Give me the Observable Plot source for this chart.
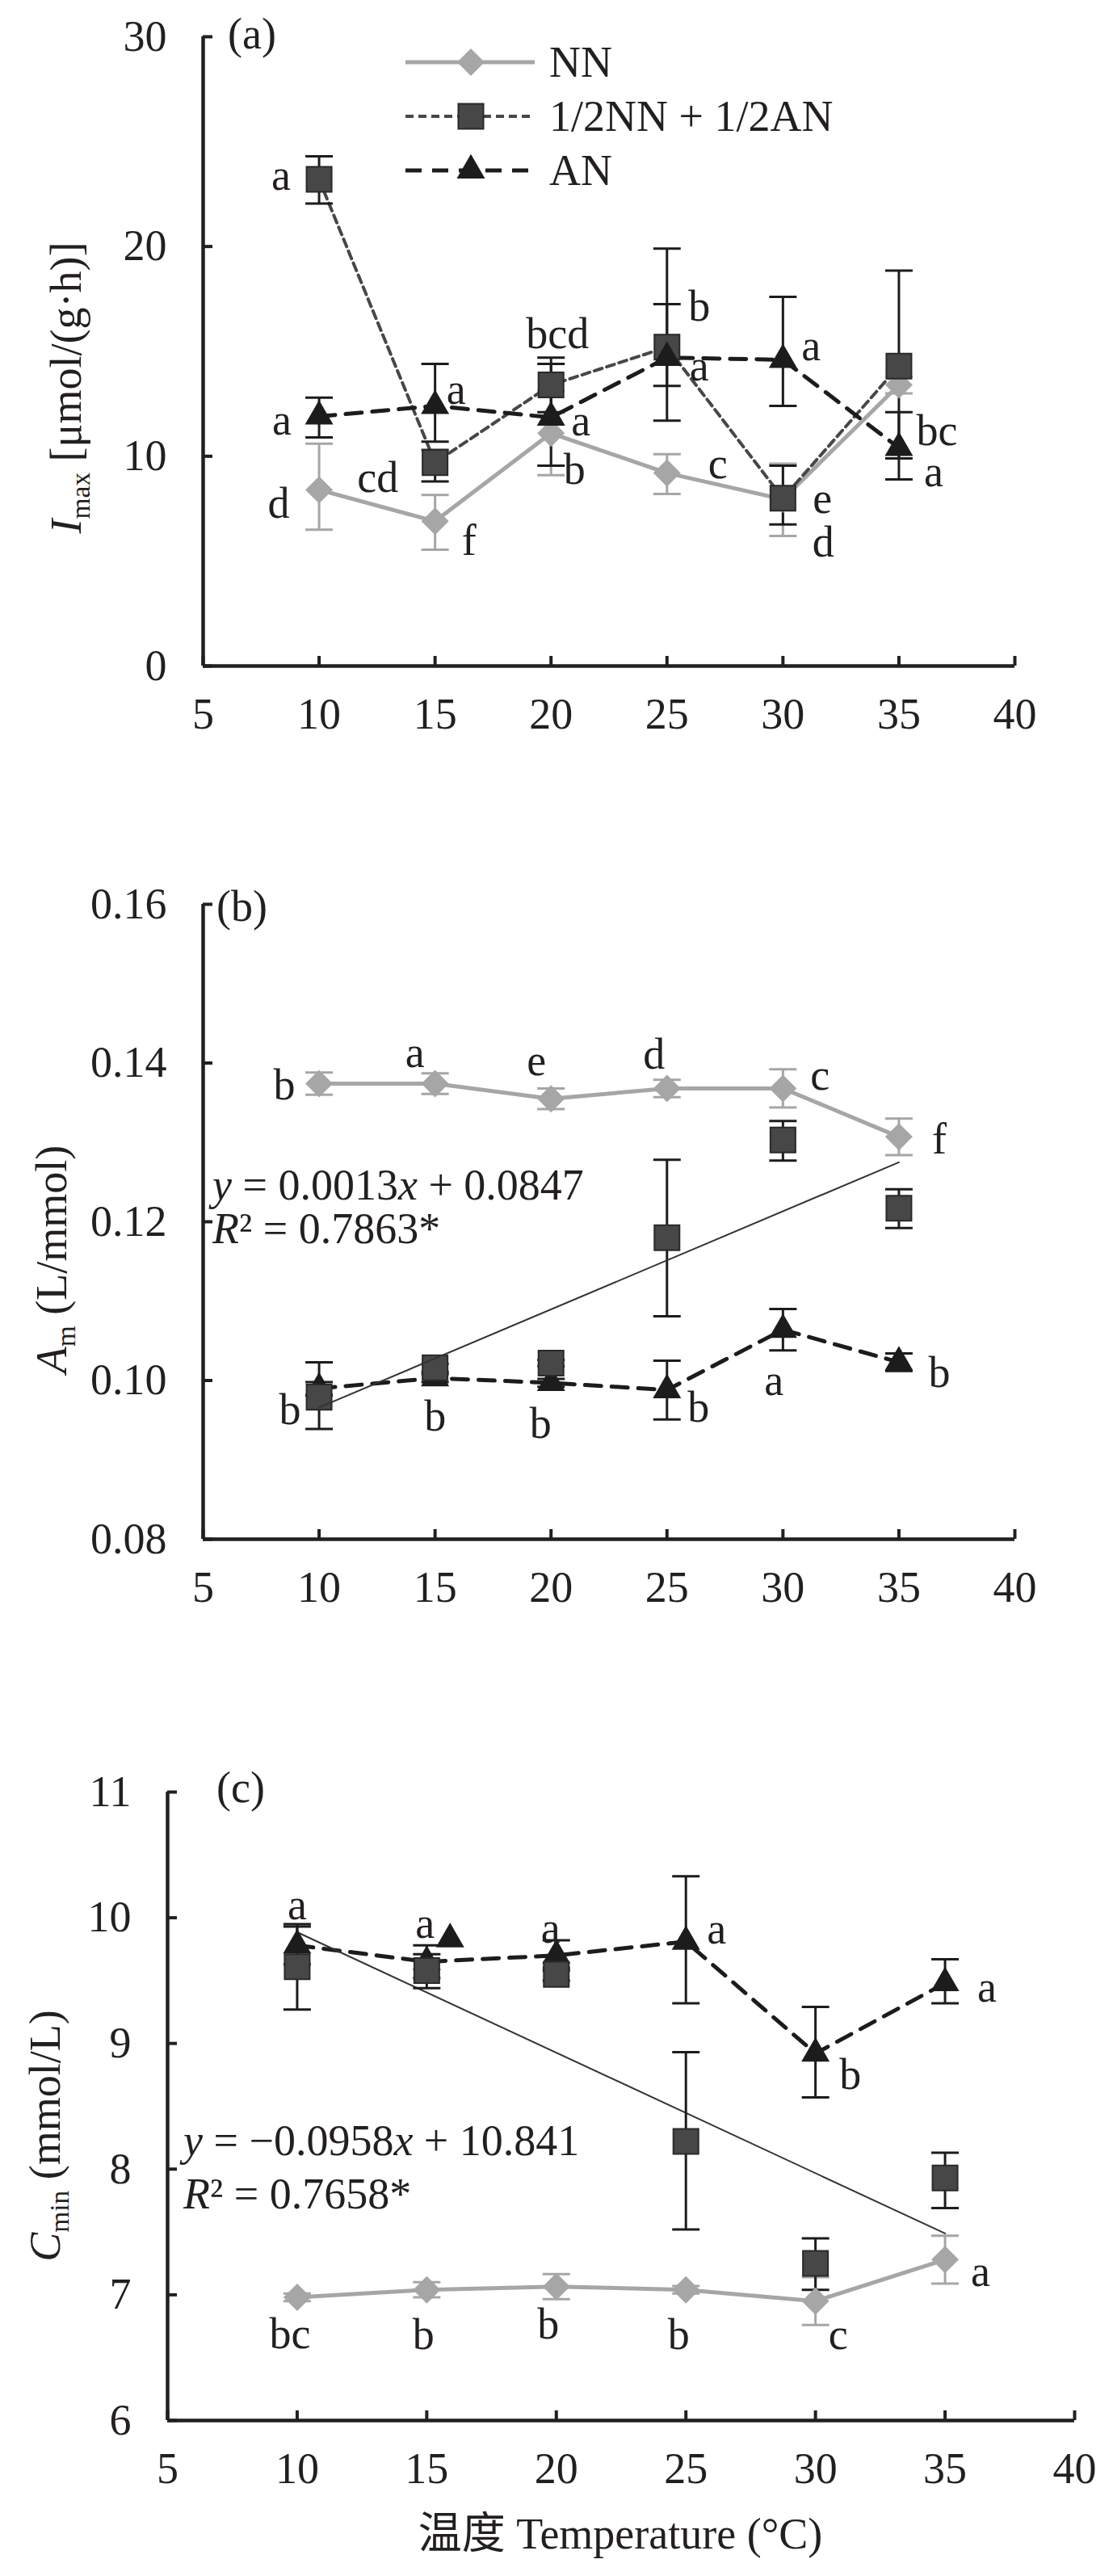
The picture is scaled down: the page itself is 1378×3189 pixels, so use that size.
<!DOCTYPE html>
<html><head><meta charset="utf-8">
<script src="https://cdn.jsdelivr.net/npm/d3@7"></script>
<script src="https://cdn.jsdelivr.net/npm/@observablehq/plot@0.6"></script>
<style>
body{margin:0;background:#fff;}
#wrap{width:1378px;}
svg{display:block;}
</style></head><body><div id="wrap"></div>
<script>
// ---------- data ----------
const temps = [10, 15, 20, 25, 30, 35];
const xTicks = [5, 10, 15, 20, 25, 30, 35, 40];
const seriesNames = ["NN", "1/2NN + 1/2AN", "AN"];

// (a) Imax
const aTicks = [0, 10, 20, 30];
const aNN = [8.4, 6.9, 11.1, 9.2, 7.95, 13.4];
const aNNup = [2.2, 1.25, 2.0, 0.9, 1.7, 0.4];
const aNNdn = [1.9, 1.35, 2.0, 1.0, 1.75, 0.4];
const aNNlet = ["d", "f", "b", "c", "d", "bc"];
const aMix = [23.2, 9.7, 13.4, 15.2, 8.0, 14.3];
const aMixUp = [1.1, 0.6, 1.3, 4.7, 1.55, 4.55];
const aMixDn = [1.15, 0.9, 1.3, 3.5, 1.25, 4.4];
const aMixLet = ["a", "cd", "bcd", "b", "e", null];
const aAN = [11.9, 12.4, 11.85, 14.7, 14.6, 10.4];
const aANup = [0.9, 2.0, 2.55, 2.55, 3.0, 1.7];
const aANdn = [1.0, 1.7, 2.3, 1.35, 2.2, 1.5];
const aANlet = ["a", "a", "a", "a", "a", "a"];

// (b) Am
const bTicks = [0.08, 0.10, 0.12, 0.14, 0.16];
const bNN = [0.1374, 0.1374, 0.1355, 0.1368, 0.1368, 0.1307];
const bNNerr = [0.0014, 0.0013, 0.0013, 0.0011, 0.0024, 0.0023];
const bNNlet = ["b", "a", "e", "d", "c", "f"];
const bMix = [0.0979, 0.1016, 0.1022, 0.1180, 0.1303, 0.1217];
const bMixUp = [0.0044, 0.0005, 0.0004, 0.0098, 0.0024, 0.0024];
const bMixDn = [0.0040, 0.0005, 0.0004, 0.0099, 0.0026, 0.0025];
const bAN = [0.0990, 0.1003, 0.0997, 0.0988, 0.1064, 0.1023];
const bANerr = [0.0008, 0.0005, 0.0005, 0.0037, 0.0026, 0.0011];
const bANlet = ["b", "b", "b", "b", "a", "b"];
const bFitX = [10, 35];
const bFitY = [0.0966, 0.1275];
const bEq = ["y = 0.0013x + 0.0847", "R² = 0.7863*"];

// (c) Cmin
const cTicks = [6, 7, 8, 9, 10, 11];
const cNN = [6.98, 7.04, 7.065, 7.04, 6.95, 7.28];
const cNNerr = [0.03, 0.06, 0.1, 0.03, 0.19, 0.19];
const cNNlet = ["bc", "b", "b", "b", "c", "a"];
const cMix = [9.61, 9.58, 9.55, 8.22, 7.25, 7.93];
const cMixUp = [0.34, 0.13, 0.05, 0.71, 0.2, 0.2];
const cMixDn = [0.34, 0.14, 0.05, 0.7, 0.21, 0.24];
const cAN = [9.78, 9.65, 9.70, 9.81, 8.92, 9.48];
const cANup = [0.15, 0.13, 0.12, 0.52, 0.37, 0.19];
const cANdn = [0.15, 0.13, 0.12, 0.49, 0.35, 0.16];
const cANlet = ["a", "a", "a", "a", "b", "a"];
const cANextraX = [15.9];
const cANextraY = [9.83];
const cFitX = [10, 35];
const cFitY = [9.885, 7.488];
const cEq = ["y = −0.0958x + 10.841", "R² = 0.7658*"];

const xTitle = "温度 Temperature (°C)";

// ---------- layout / style (not data) ----------
const F = "'Liberation Serif', 'Times New Roman', serif, 'Noto Sans CJK SC'";
const FS = 54;
const INK = "#231f20";
const C_NN = "#a6a6a6", C_MIX = "#474747", C_MIXS = "#2a2a2a", C_AN = "#1c1c1c";

// label offsets in px (dx, dy) from each point
const offA = {
  nn:  [[-50, 17], [42, 24], [29, 45], [63, -11], [50, 54], [47, 57]],
  mix: [[-47, -4], [-71, 19], [8, -63], [40, -50], [49, 1], [0, 0]],
  an:  [[-46, 5], [26, -20], [37, 5], [40, 11], [35, -17], [43, 30]]
};
const offB = {
  nn: [[-43, 2], [-25, -38], [-18, -46], [-16, -42], [46, -16], [50, 3]],
  an: [[-36, 27], [0, 48], [-13, 51], [39, 22], [-11, 64], [50, 13]]
};
const offC = {
  nn: [[-9, 46], [-4, 56], [-10, 47], [-9, 56], [28, 42], [44, 15]],
  an: [[0, -50], [-2, -47], [-7, -33], [38, -15], [43, 27], [52, 6]]
};

function rows(vals, up, dn, letters) {
  return temps.map((t, i) => ({x: t, y: vals[i], lo: vals[i] - dn[i], hi: vals[i] + up[i], letter: letters ? letters[i] : null}));
}
const capSymbol = {draw(ctx, size) { const w = Math.sqrt(size / Math.PI); ctx.moveTo(-w, 0); ctx.lineTo(w, 0); }};

function errMarks(data, color) {
  return [
    Plot.ruleX(data, {x: "x", y1: "lo", y2: "hi", stroke: color, strokeWidth: 3}),
    Plot.dot(data, {x: "x", y: "lo", symbol: capSymbol, r: 17, stroke: color, strokeWidth: 3, fill: "none"}),
    Plot.dot(data, {x: "x", y: "hi", symbol: capSymbol, r: 17, stroke: color, strokeWidth: 3, fill: "none"})
  ];
}
function letterMarks(data, offs) {
  return data.map((d, i) => d.letter ? Plot.text([d], {x: "x", y: "y", text: "letter", dx: offs[i][0], dy: offs[i][1], fontSize: FS, fill: INK, lineAnchor: "middle", textAnchor: "middle"}) : null).filter(Boolean);
}
const styNN = {stroke: C_NN, strokeWidth: 5};
const styMix = {stroke: C_MIX, strokeWidth: 4, strokeDasharray: "10,6"};
const styAN = {stroke: C_AN, strokeWidth: 5, strokeDasharray: "20,13"};
const dotNN = {symbol: "diamond2", r: 15.3, fill: C_NN};
const dotMix = {symbol: "square", r: 17.5, fill: C_MIX, stroke: C_MIXS, strokeWidth: 2};
const dotAN = {symbol: "triangle", r: 13, fill: C_AN};

function axes(yTicks, yFmt, yMin) {
  return [
    Plot.ruleX([5], {stroke: INK, strokeWidth: 4.5}),
    Plot.ruleY([yMin], {stroke: INK, strokeWidth: 4.5}),
    Plot.axisX({ticks: xTicks, tickSize: -12, tickPadding: 51, strokeWidth: 4, stroke: INK, fill: INK, fontSize: FS, label: null, tickFormat: d => String(d)}),
    Plot.axisY({ticks: yTicks, tickSize: -12, tickPadding: 57, strokeWidth: 4, stroke: INK, fill: INK, fontSize: FS, label: null, tickFormat: yFmt})
  ];
}
function base(h, mt, mb, ml, mr, ydom) {
  return {width: 1378, height: h, marginTop: mt, marginBottom: mb, marginLeft: ml, marginRight: mr,
    style: {fontFamily: F, fontSize: FS + "px", color: INK, background: "white", overflow: "visible"},
    x: {domain: [5, 40]}, y: {domain: ydom}};
}

function addText(svg, x, y, parts, opts = {}) {
  const t = svg.append("text").attr("x", x).attr("y", y)
    .style("font-family", F).attr("font-size", FS).attr("fill", INK)
    .attr("text-anchor", opts.anchor || "start");
  if (opts.transform) t.attr("transform", opts.transform).attr("x", 0).attr("y", 0);
  for (const p of parts) {
    const s = t.append("tspan").text(p.t);
    if (p.i) s.attr("font-style", "italic");
    if (p.sub) s.attr("font-size", FS * 0.62).attr("dy", 11);
    if (p.unsub) s.attr("dy", -11);
  }
  return t;
}
function eqParts(s) {
  const parts = [];
  for (const ch of s) {
    const it = ch === "y" || ch === "x" || ch === "R";
    if (parts.length && parts[parts.length - 1].i === it) parts[parts.length - 1].t += ch;
    else parts.push({t: ch, i: it});
  }
  return parts;
}

const wrap = d3.select("#wrap");

// ---------- panel (a) ----------
const A = {nn: rows(aNN, aNNup, aNNdn, aNNlet), mix: rows(aMix, aMixUp, aMixDn, aMixLet), an: rows(aAN, aANup, aANdn, aANlet)};
const pa = Plot.plot({...base(1000, 45, 176, 251, 122, [0, 30]),
  marks: [
    ...axes(aTicks, d => String(d), 0),
    Plot.line(A.nn, {x: "x", y: "y", ...styNN}),
    Plot.line(A.mix, {x: "x", y: "y", ...styMix}),
    Plot.line(A.an, {x: "x", y: "y", ...styAN}),
    ...errMarks(A.nn, C_NN),
    ...errMarks(A.mix, C_AN),
    ...errMarks(A.an, C_AN),
    Plot.dot(A.nn, {x: "x", y: "y", ...dotNN}),
    Plot.dot(A.mix, {x: "x", y: "y", ...dotMix}),
    Plot.dot(A.an, {x: "x", y: "y", ...dotAN}),
    ...letterMarks(A.nn, offA.nn), ...letterMarks(A.mix, offA.mix), ...letterMarks(A.an, offA.an)
  ]});
wrap.node().appendChild(pa);
{
  const svg = d3.select(pa);
  addText(svg, 282, 60, [{t: "(a)"}]);
  addText(svg, 0, 0, [{t: "I", i: true}, {t: "max", sub: true}, {t: " [μmol/(g·h)]", unsub: true}], {anchor: "middle", transform: "translate(100,480) rotate(-90)"});
  const leg = [
    {name: seriesNames[0], sty: styNN, sym: d3.symbolDiamond2, r: 15.3, fill: C_NN, stroke: "none", y: 77},
    {name: seriesNames[1], sty: styMix, sym: d3.symbolSquare, r: 17.5, fill: C_MIX, stroke: C_MIXS, y: 144},
    {name: seriesNames[2], sty: styAN, sym: d3.symbolTriangle, r: 13, fill: C_AN, stroke: "none", y: 211}
  ];
  for (const l of leg) {
    svg.append("line").attr("x1", 502).attr("x2", 662).attr("y1", l.y).attr("y2", l.y)
      .attr("stroke", l.sty.stroke).attr("stroke-width", l.sty.strokeWidth).attr("stroke-dasharray", l.sty.strokeDasharray || null);
    svg.append("path").attr("transform", `translate(583,${l.y})`)
      .attr("d", d3.symbol(l.sym, Math.PI * l.r * l.r)()).attr("fill", l.fill).attr("stroke", l.stroke).attr("stroke-width", 2);
    addText(svg, 680, l.y + 18, [{t: l.name}]);
  }
}

// ---------- panel (b) ----------
const B = {nn: rows(bNN, bNNerr, bNNerr, bNNlet), mix: rows(bMix, bMixUp, bMixDn, null), an: rows(bAN, bANerr, bANerr, bANlet)};
const bFit = bFitX.map((x, i) => ({x, y: bFitY[i]}));
const pb = Plot.plot({...base(1090, 119, 185, 251, 122, [0.08, 0.16]),
  marks: [
    ...axes(bTicks, d3.format(".2f"), 0.08),
    Plot.line(B.nn, {x: "x", y: "y", ...styNN}),
    Plot.line(B.an, {x: "x", y: "y", ...styAN}),
    ...errMarks(B.nn, C_NN),
    ...errMarks(B.mix, C_AN),
    ...errMarks(B.an, C_AN),
    Plot.dot(B.an, {x: "x", y: "y", ...dotAN}),
    Plot.dot(B.mix, {x: "x", y: "y", ...dotMix}),
    Plot.dot(B.nn, {x: "x", y: "y", ...dotNN}),
    Plot.line(bFit, {x: "x", y: "y", stroke: "#333", strokeWidth: 2}),
    ...letterMarks(B.nn, offB.nn), ...letterMarks(B.an, offB.an)
  ]});
wrap.node().appendChild(pb);
{
  const svg = d3.select(pb);
  addText(svg, 268, 140, [{t: "(b)"}]);
  addText(svg, 0, 0, [{t: "A", i: true}, {t: "m", sub: true}, {t: " (L/mmol)", unsub: true}], {anchor: "middle", transform: "translate(82,559) rotate(-90)"});
  addText(svg, 263, 485, eqParts(bEq[0]));
  addText(svg, 263, 539, eqParts(bEq[1]));
}

// ---------- panel (c) ----------
const Cd = {nn: rows(cNN, cNNerr, cNNerr, cNNlet), mix: rows(cMix, cMixUp, cMixDn, null), an: rows(cAN, cANup, cANdn, cANlet)};
const cFit = cFitX.map((x, i) => ({x, y: cFitY[i]}));
const cExtra = cANextraX.map((x, i) => ({x, y: cANextraY[i]}));
const pc = Plot.plot({...base(1099, 128, 193, 207, 48, [6, 11]),
  marks: [
    ...axes(cTicks, d => String(d), 6),
    Plot.line(Cd.nn, {x: "x", y: "y", ...styNN}),
    Plot.line(Cd.an, {x: "x", y: "y", ...styAN}),
    Plot.line(cFit, {x: "x", y: "y", stroke: "#333", strokeWidth: 2}),
    ...errMarks(Cd.nn, C_NN),
    ...errMarks(Cd.mix, C_AN),
    ...errMarks(Cd.an, C_AN),
    Plot.dot(Cd.nn, {x: "x", y: "y", ...dotNN}),
    Plot.dot(Cd.an, {x: "x", y: "y", ...dotAN}),
    Plot.dot(cExtra, {x: "x", y: "y", ...dotAN}),
    Plot.dot(Cd.mix, {x: "x", y: "y", ...dotMix}),
    ...letterMarks(Cd.nn, offC.nn), ...letterMarks(Cd.an, offC.an)
  ]});
wrap.node().appendChild(pc);
{
  const svg = d3.select(pc);
  addText(svg, 268, 141, [{t: "(c)"}]);
  addText(svg, 0, 0, [{t: "C", i: true}, {t: "min", sub: true}, {t: " (mmol/L)", unsub: true}], {anchor: "middle", transform: "translate(74,554) rotate(-90)"});
  addText(svg, 227, 578, eqParts(cEq[0]));
  addText(svg, 227, 644, eqParts(cEq[1]));
  addText(svg, 768, 1065, [{t: xTitle}], {anchor: "middle"});
}
</script></body></html>
